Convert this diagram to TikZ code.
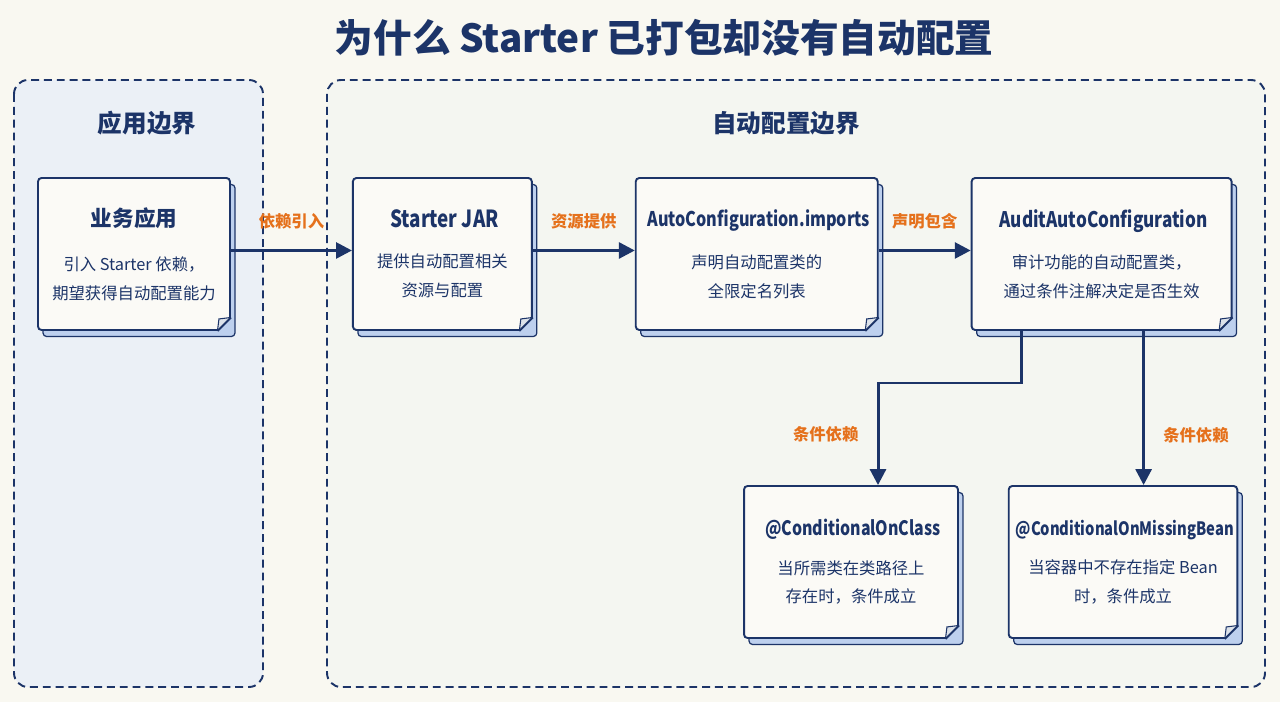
\documentclass[tikz,border=0pt]{standalone}
\usepackage{fontspec}
\setmainfont{Noto Sans CJK SC}
\newfontfamily\narrowsans{Noto Sans CJK SC}[FakeStretch=0.8]
\usetikzlibrary{positioning,shadows,arrows.meta}
\definecolor{navy}{HTML}{1C3468}
\definecolor{paper}{HTML}{F9F8F1}
\definecolor{leftzone}{HTML}{EBF0F6}
\definecolor{rightzone}{HTML}{F4F6F1}
\definecolor{cardfill}{HTML}{FBFAF6}
\definecolor{shadowblue}{HTML}{BDD0EE}
\definecolor{foldgray}{HTML}{DCE2EA}
\definecolor{labelorange}{HTML}{E5711C}
\newcommand{\cardtitle}{\fontsize{12.3}{15}\selectfont\bfseries}
\newcommand{\cardcode}[1][12.3]{\narrowsans\fontsize{#1}{15}\selectfont\bfseries}

\begin{document}
\begin{tikzpicture}[
  x=0.02cm, y=-0.02cm,
  node distance=2cm,
  card/.style={draw=navy,line width=1.1pt,fill=cardfill,rounded corners=2pt,
    minimum height=3.04cm,align=center,text=navy,inner xsep=2pt,
    font=\fontsize{9.3}{16.4}\selectfont,
    copy shadow={shadow xshift=0.1cm,shadow yshift=-0.13cm,fill=shadowblue,draw=navy,line width=0.7pt}},
  zone/.style={draw=navy,line width=1.1pt,dash pattern=on 4.5pt off 2.8pt,rounded corners=8pt},
  flow/.style={draw=navy,line width=1.7pt,-{Triangle[width=9pt,length=9pt]}},
  tag/.style={text=labelorange,font=\fontsize{9.3}{11}\selectfont\bfseries},
  zonetitle/.style={text=navy,font=\fontsize{14}{17}\selectfont\bfseries}
]
\useasboundingbox[fill=paper] (0,0) rectangle (1280,702);

% boundaries
\draw[zone,fill=leftzone] (14,80) rectangle (263,687);
\draw[zone,fill=rightzone] (327,80) rectangle (1265,687);

\node[text=navy,font=\fontsize{22}{26}\selectfont\bfseries] (title) at (664,38) {为什么 Starter 已打包却没有自动配置};
\node[zonetitle] (apptitle) at (147,123) {应用边界};
\node[zonetitle] (autotitle) at (786,123) {自动配置边界};

% main chain
\node[card,minimum width=3.84cm] (app) at (134,254) {{\cardtitle 业务应用}\\[8.6pt]引入 Starter 依赖，\\期望获得自动配置能力};
\node[card,minimum width=3.58cm,right=2.42cm of app] (jar) {{\cardcode[13.4] Starter JAR}\\[6.3pt]提供自动配置相关\\资源与配置};
\node[card,minimum width=4.84cm,right=2.04cm of jar] (imports) {{\cardcode[11.5] AutoConfiguration.imports}\\[7.6pt]声明自动配置类的\\全限定名列表};
\node[card,minimum width=5.2cm,right=1.84cm of imports] (audit) {{\cardcode[12.2] AuditAutoConfiguration}\\[6.8pt]审计功能的自动配置类，\\通过条件注解决定是否生效};

% conditions
\node[card,minimum width=4.28cm] (onclass) at (851,562) {{\cardcode[11.3] @ConditionalOnClass}\\[5.3pt]当所需类在类路径上\\存在时，条件成立};
\node[card,minimum width=4.56cm] (missing) at (1123,562) {{\cardcode[10.5] @ConditionalOnMissingBean}\\[5.6pt]当容器中不存在指定 Bean\\时，条件成立};

% folded corners
\foreach \n in {app,jar,imports,audit,onclass,missing}{
  \fill[shadowblue] ([xshift=-0.27cm]\n.south east) -- ([yshift=0.27cm]\n.south east)
    -- ([shift={(0.04cm,0.27cm)}]\n.south east) -- ([shift={(0.04cm,-0.04cm)}]\n.south east)
    -- ([shift={(-0.27cm,-0.04cm)}]\n.south east) -- cycle;
  \draw[navy,line width=0.6pt,fill=foldgray] ([xshift=-0.27cm]\n.south east)
    -- ([shift={(-0.24cm,0.24cm)}]\n.south east) -- ([yshift=0.27cm]\n.south east);
  \draw[navy,line width=1.1pt] ([xshift=-0.27cm]\n.south east) -- ([yshift=0.27cm]\n.south east);
}

\draw[flow] ([yshift=2pt]app.east) -- ([yshift=2pt]jar.west) node[midway,above=8pt,tag] {依赖引入};
\draw[flow] ([yshift=2pt]jar.east) -- ([yshift=2pt]imports.west) node[midway,above=8pt,tag] {资源提供};
\draw[flow] ([yshift=2pt]imports.east) -- ([yshift=2pt]audit.west) node[midway,above=8pt,tag] {声明包含};

\coordinate (tapleft) at ([xshift=-1.6cm]audit.south);
\coordinate (tapright) at ([xshift=0.84cm]audit.south);
\coordinate (bend) at (878,383);
\draw[flow] (tapleft) |- (bend) -- (bend |- onclass.north) node[midway,left=7pt,tag] {条件依赖};
\draw[flow] (tapright) -- (tapright |- missing.north) node[pos=0.68,right=7pt,tag] {条件依赖};
\end{tikzpicture}
\end{document}
